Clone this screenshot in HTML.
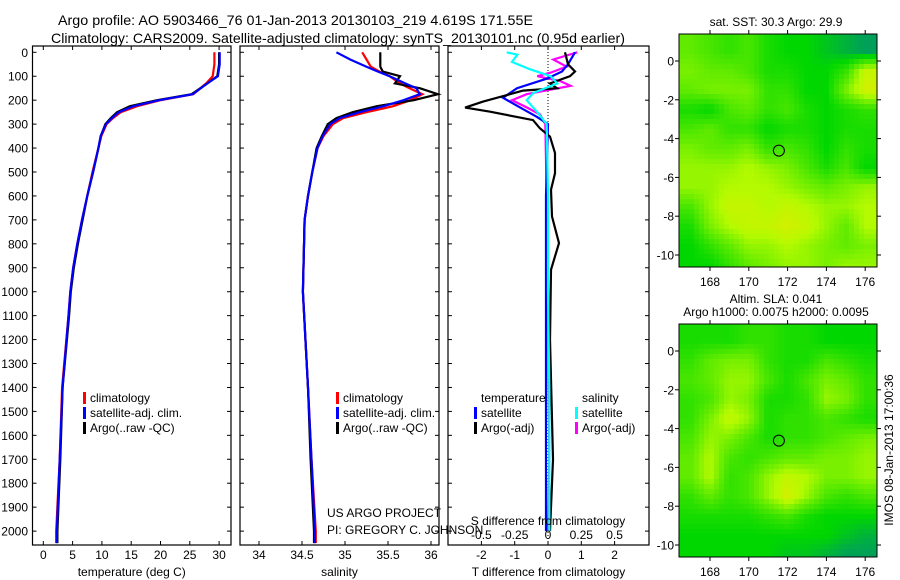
<!DOCTYPE html>
<html><head><meta charset="utf-8"><style>
html,body{margin:0;padding:0;background:#fff;}
svg{display:block;font-family:"Liberation Sans",sans-serif;}
</style></head><body>
<svg id="chart" width="900" height="580" viewBox="0 0 900 580" xmlns="http://www.w3.org/2000/svg"></svg>
<script>
// ---- data ----
const tDepth = [0,50,100,130,175,200,225,250,275,300,350,400,500,600,700,800,900,1000,1100,1400,1700,2000,2050];
const tArgo  = [30.0,30.0,29.7,28.0,25.3,19.4,14.8,12.6,11.5,10.6,9.8,9.4,8.5,7.5,6.7,5.9,5.2,4.7,4.4,3.3,2.9,2.4,2.4];
const tClim  = [29.2,29.2,28.9,27.8,25.6,20.0,16.0,13.2,11.9,10.8,9.9,9.4,8.4,7.5,6.6,5.8,5.1,4.6,4.3,3.2,2.8,2.2,2.2];
const tSat   = [30.1,30.1,29.8,28.0,25.5,19.8,15.4,12.9,11.7,10.7,9.8,9.4,8.5,7.5,6.6,5.8,5.1,4.6,4.3,3.3,2.8,2.3,2.3];
const sDepth = [0,30,60,80,100,130,150,175,200,225,250,275,300,350,400,500,600,700,1000,1400,1700,2000,2050];
const sArgo  = [35.41,35.41,35.41,35.44,35.64,35.58,35.87,36.08,35.80,35.37,35.09,34.90,34.80,34.73,34.67,34.62,34.57,34.53,34.51,34.57,34.60,34.64,34.64];
const sClim  = [35.20,35.25,35.30,35.40,35.52,35.64,35.75,35.90,35.76,35.56,35.25,34.98,34.86,34.75,34.68,34.62,34.57,34.53,34.51,34.57,34.61,34.66,34.66];
const sSat   = [34.90,35.06,35.25,35.38,35.52,35.70,35.83,35.87,35.68,35.45,35.17,34.94,34.83,34.74,34.68,34.62,34.57,34.53,34.51,34.57,34.61,34.65,34.65];
const dTDepth = [0,50,80,100,130,150,160,206,231,248,283,318,352,421,505,574,686,797,908,1200,1700,2000];
const dTArgo  = [0.51,0.60,0.81,0.66,0.06,0.27,-0.75,-1.95,-2.49,-1.74,-0.45,-0.24,0.06,0.21,0.21,0.09,0.12,0.33,0.09,0.06,0.15,0.06];
const dSDepth = [0,50,80,110,150,190,230,270,300,600,1000,1400,1700,2000];
const dTSat   = [0.81,0.60,0.42,-0.03,-0.93,-1.35,-0.84,-0.33,0.0,-0.06,-0.06,-0.06,-0.06,-0.06];
const dSMDepth = [0,30,60,85,100,120,140,175,200,230,260,300,600,1000,1700,2000];
const dSArgo  = [0.22,0.04,0.14,0.02,-0.08,0.09,0.17,-0.16,-0.27,-0.16,-0.06,-0.02,-0.01,0.0,0.01,0.0];
const dSCDepth = [0,10,40,70,100,130,170,200,250,300,600,1000,1400,2000];
const dSSat   = [-0.31,-0.23,-0.27,-0.14,0.02,0.07,-0.11,-0.16,-0.08,-0.01,0.0,0.0,0.01,0.01];
const depthTicks = [0,100,200,300,400,500,600,700,800,900,1000,1100,1200,1300,1400,1500,1600,1700,1800,1900,2000];
const tTicks = [0,5,10,15,20,25,30];
const sTicks = [34,34.5,35,35.5,36];
const sTickLabels = ["34","34.5","35","35.5","36"];
const dTTicks = [-2,-1,0,1,2];
const dSTicks = [-0.5,-0.25,0,0.25,0.5];
const dSTickLabels = ["-0.5","-0.25","0","0.25","0.5"];
const lonTicks = [168,170,172,174,176];
const latTicks = [0,-2,-4,-6,-8,-10];
const sstGrid = [
[0.4,0.3,0.2,0.3,0.1,0.0,0.0,-0.1,-0.2,-0.3],
[0.5,0.4,0.4,0.3,0.1,0.1,0.0,0.0,0.2,0.8],
[0.4,0.5,0.5,0.5,0.2,0.2,0.0,0.0,0.5,0.9],
[0.1,0.0,0.3,0.4,0.2,0.3,0.1,0.0,0.1,0.2],
[0.3,0.4,0.2,0.2,0.0,0.1,0.1,0.0,0.1,0.1],
[0.5,0.4,0.4,0.5,0.2,0.3,0.2,0.0,0.2,0.1],
[0.6,0.6,0.6,0.7,0.6,0.5,0.3,0.1,0.3,0.0],
[0.6,0.6,0.7,0.7,0.7,0.6,0.5,0.4,0.5,0.6],
[0.3,0.6,0.8,0.8,0.7,0.8,0.7,0.6,0.6,0.7],
[0.1,0.5,0.7,0.8,0.8,0.9,0.8,0.6,0.4,0.7],
[0.0,0.2,0.4,0.6,0.6,0.7,0.6,0.5,0.4,0.5],
[0.0,0.0,0.2,0.4,0.5,0.6,0.6,0.5,0.6,0.6]];
const slaGrid = [
[0.1,0.1,0.1,0.2,0.2,0.1,0.1,0.0,0.0,0.0],
[0.2,0.4,0.5,0.5,0.2,0.1,0.1,0.3,0.2,0.1],
[0.3,0.4,0.6,0.6,0.3,0.1,0.3,0.5,0.4,0.2],
[0.2,0.3,0.6,0.5,0.1,0.1,0.2,0.6,0.5,0.2],
[0.2,0.5,0.8,0.6,0.1,0.2,0.2,0.3,0.2,0.1],
[0.3,0.6,0.5,0.3,0.1,0.2,0.2,0.3,0.4,0.5],
[0.4,0.7,0.3,0.2,0.3,0.4,0.4,0.5,0.5,0.6],
[0.4,0.7,0.2,0.3,0.6,0.8,0.7,0.5,0.5,0.6],
[0.2,0.4,0.2,0.3,0.6,0.9,0.6,0.3,0.2,0.3],
[0.1,0.1,0.1,0.1,0.2,0.3,0.1,0.0,0.0,0.0],
[0.0,0.0,0.0,0.0,0.0,0.0,0.0,0.0,-0.1,-0.2],
[0.0,0.0,0.0,0.0,0.0,-0.1,-0.1,-0.2,-0.3,-0.3]];
const floatLon = 171.55, floatLat = -4.62;

const NS="http://www.w3.org/2000/svg";
const svg=document.getElementById('chart');
function el(tag,attrs,parent){const e=document.createElementNS(NS,tag);for(const k in attrs)e.setAttribute(k,attrs[k]);(parent||svg).appendChild(e);return e;}
function txt(s,x,y,attrs,parent){const e=el('text',Object.assign({x:x,y:y,'font-size':12,fill:'#000'},attrs||{}),parent);e.textContent=s;return e;}

const Y0=52.3, PY=0.2394;
const yD=d=>Y0+d*PY;
const TOP=46, BOT=545;

let t=txt('Argo profile: AO 5903466_76 01-Jan-2013 20130103_219 4.619S 171.55E',58,25,{'font-size':14,textLength:475,lengthAdjust:'spacingAndGlyphs'});


t=txt('Climatology: CARS2009. Satellite-adjusted climatology: synTS_20130101.nc (0.95d earlier)',51,43,{'font-size':14,textLength:574,lengthAdjust:'spacingAndGlyphs'});



function panel(name,x0,x1,xf,ticks,labels,xtitle,depthLabels){
  const g=el('g',{});
  
  
  el('rect',{x:x0,y:TOP,width:x1-x0,height:BOT-TOP,fill:'none',stroke:'#000','stroke-width':1.2},g);
  depthTicks.forEach(d=>{
    const y=yD(d);
    el('line',{x1:x0,x2:x0+4,y1:y,y2:y,stroke:'#000'},g);
    el('line',{x1:x1-4,x2:x1,y1:y,y2:y,stroke:'#000'},g);
    if(depthLabels){const l=txt(String(d),28,y+4.5,{'text-anchor':'end'},g);
      }
  });
  ticks.forEach((v,i)=>{
    const x=xf(v);
    el('line',{x1:x,x2:x,y1:BOT,y2:BOT-4,stroke:'#000'},g);
    el('line',{x1:x,x2:x,y1:TOP,y2:TOP+4,stroke:'#000'},g);
    const l=txt(labels[i],x,559,{'text-anchor':'middle'},g);
    
  });
  const tt=txt(xtitle,(x0+x1)/2,576,{'text-anchor':'middle'},g);
  
  return g;
}
function line(g,name,xs,ds,xf,color){
  const pts=xs.map((v,i)=>xf(v).toFixed(1)+','+yD(ds[i]).toFixed(1)).join(' ');
  const p=el('polyline',{points:pts,fill:'none',stroke:color,'stroke-width':2.2},g);
  
  
}
function legend(g,items,x,y0){
  items.forEach((it,i)=>{
    const y=y0+i*15;
    if(it[1]) el('rect',{x:x-7,y:y-10,width:3,height:12,fill:it[1]},g);
    const l=txt(it[0],x,y,{},g);
    
  });
}

const xT=v=>43.3+v*5.86;
const g1=panel('temperature-panel',32.5,231,xT,tTicks,tTicks.map(String),'temperature (deg C)',true);
line(g1,'temp-climatology',tClim,tDepth,xT,'#f00');
line(g1,'temp-argo',tArgo,tDepth,xT,'#000');
line(g1,'temp-satellite-adj',tSat,tDepth,xT,'#00f');
legend(g1,[['climatology','#f00'],['satellite-adj. clim.','#00f'],['Argo(..raw -QC)','#000']],90,402);

const xS=v=>259+(v-34)*86;
const g2=panel('salinity-panel',240,439,xS,sTicks,sTickLabels,'salinity',false);
line(g2,'sal-climatology',sClim,sDepth,xS,'#f00');
line(g2,'sal-argo',sArgo,sDepth,xS,'#000');
line(g2,'sal-satellite-adj',sSat,sDepth,xS,'#00f');
legend(g2,[['climatology','#f00'],['satellite-adj. clim.','#00f'],['Argo(..raw -QC)','#000']],343,402);
t=txt('US ARGO PROJECT',327,517,{},g2);
t=txt('PI: GREGORY C. JOHNSON',327,534,{},g2);

const xDT=v=>548+v*33.3;
const xDS=v=>548+v*133.2;
const g3=panel('difference-panel',448,649,xDT,dTTicks,dTTicks.map(String),'T difference from climatology',false);
el('line',{x1:548,x2:548,y1:TOP,y2:BOT,stroke:'#000','stroke-dasharray':'1,2'},g3);
line(g3,'sdiff-argo',dSArgo,dSMDepth,xDS,'#f0f');
line(g3,'tdiff-satellite',dTSat,dSDepth,xDT,'#00f');
line(g3,'tdiff-argo',dTArgo,dTDepth,xDT,'#000');
line(g3,'sdiff-satellite',dSSat,dSCDepth,xDS,'#0ff');
dSTicks.forEach((v,i)=>{const l=txt(dSTickLabels[i],xDS(v),539,{'text-anchor':'middle'},g3);});
t=txt('S difference from climatology',548,525,{'text-anchor':'middle'},g3);
legend(g3,[['temperature',null],['satellite','#00f'],['Argo(-adj)','#000']],481,402);
legend(g3,[['salinity',null],['satellite','#0ff'],['Argo(-adj)','#f0f']],582,402);

function colorFor(v){
  const stops=[[-0.3,[0,160,90]],[0,[0,215,0]],[0.5,[120,240,0]],[0.7,[180,250,0]],[1,[225,235,0]]];
  v=Math.max(-0.3,Math.min(1,v));
  for(let i=1;i<stops.length;i++){if(v<=stops[i][0]){const a=stops[i-1],b=stops[i];const f=(v-a[0])/(b[0]-a[0]);
    return 'rgb('+a[1].map((c,j)=>Math.round(c+(b[1][j]-c)*f)).join(',')+')';}}
  return 'rgb(225,235,0)';
}
function sample(grid,lon,lat){
  let c=(lon-166.5)-0.5, r=(1-lat)-0.5;
  c=Math.max(0,Math.min(8.999,c)); r=Math.max(0,Math.min(10.999,r));
  const c0=Math.floor(c),r0=Math.floor(r),fc=c-c0,fr=r-r0;
  return grid[r0][c0]*(1-fc)*(1-fr)+grid[r0][c0+1]*fc*(1-fr)+grid[r0+1][c0]*(1-fc)*fr+grid[r0+1][c0+1]*fc*fr;
}
function map(name,grid,top,zeroY,titles,titleY,step){
  const g=el('g',{});
  
  
  const L=679,R=877,B=top+233;
  const xl=lon=>710+(lon-168)*19.4;
  const yl=lat=>zeroY-lat*19.4;
  for(let y=top;y<B;y+=step){for(let x=L;x<R;x+=step){
    const lon=168+(x+step/2-710)/19.4, lat=(zeroY-(y+step/2))/19.4;
    const c=el('rect',{x:x,y:y,width:Math.min(step,R-x)+0.3,height:Math.min(step,B-y)+0.3,fill:colorFor(sample(grid,lon,lat))},g);
    
  }}
  el('rect',{x:L,y:top,width:R-L,height:B-top,fill:'none',stroke:'#000','stroke-width':1},g);
  lonTicks.forEach(v=>{const x=xl(v);el('line',{x1:x,x2:x,y1:top,y2:top-4,stroke:'#000'},g);el('line',{x1:x,x2:x,y1:B,y2:B+4,stroke:'#000'},g);
    const l=txt(String(v),x,B+19,{'text-anchor':'middle'},g);});
  latTicks.forEach(v=>{const y=yl(v);el('line',{x1:L,x2:L-4,y1:y,y2:y,stroke:'#000'},g);el('line',{x1:R,x2:R+4,y1:y,y2:y,stroke:'#000'},g);
    const l=txt(String(v),674,y+4.5,{'text-anchor':'end'},g);});
  titles.forEach((s,i)=>{const l=txt(s,776,titleY[i],{'text-anchor':'middle'},g);});
  const c=el('circle',{cx:xl(floatLon),cy:yl(floatLat),r:5.5,fill:'none',stroke:'#000','stroke-width':1},g);
  
  return g;
}
map('sst-map',sstGrid,34,61,['sat. SST: 30.3 Argo: 29.9'],[26],5);
map('sla-map',slaGrid,324,351,['Altim. SLA: 0.041','Argo h1000: 0.0075 h2000: 0.0095'],[303,316],5);
t=txt('IMOS 08-Jan-2013 17:00:36',0,0,{transform:'translate(893,450) rotate(-90)','text-anchor':'middle'});


</script>
</body></html>
